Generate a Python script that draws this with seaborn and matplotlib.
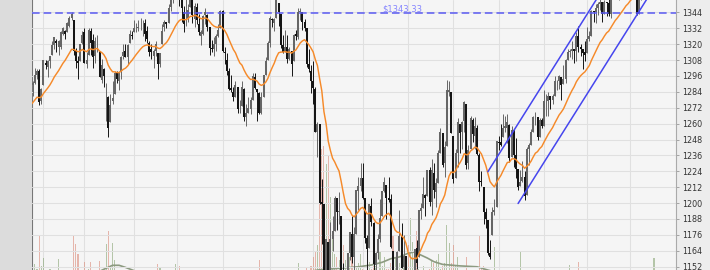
import numpy as np
import pandas as pd
import matplotlib
matplotlib.use("Agg")
import matplotlib.pyplot as plt
import matplotlib.transforms as mtransforms
from matplotlib.patches import Rectangle
import seaborn as sns

# ---------------- data: daily (open, high, low, close), one list per month ----------------
bars_2010_12 = [(1187,1207,1187,1206),(1206,1222,1206,1221),(1220,1225,1216,1225),(1225,1225,1220,1224),
                (1230,1236,1223,1224),(1224,1229,1220,1228),(1230,1234,1228,1233),(1233,1241,1233,1240),
                (1242,1247,1239,1240),(1241,1247,1238,1242),(1241,1245,1232,1235),(1236,1244,1233,1243),
                (1243,1244,1239,1244),(1245,1250,1239,1247),(1249,1255,1249,1255),
                (1255,1260,1255,1259),(1259,1259,1254,1257),(1254,1258,1252,1258),(1259,1260,1256,1259),
                (1259,1263,1259,1260),(1260,1261,1256,1258),(1256,1259,1251,1258)]
bars_2011_01 = [(1258,1276,1258,1272),(1273,1275,1262,1270),(1269,1278,1265,1277),(1277,1278,1270,1274),
                (1274,1276,1262,1272),(1270,1272,1263,1270),(1272,1277,1270,1274),(1275,1287,1275,1286),
                (1285,1287,1280,1284),(1283,1293,1281,1293),(1293,1296,1288,1295),(1294,1294,1278,1282),
                (1280,1280,1271,1280),(1283,1292,1282,1283),(1284,1291,1283,1291),(1289,1292,1281,1291),
                (1291,1302,1290,1297),(1297,1301,1294,1300),(1300,1301,1274,1276),(1277,1287,1275,1286)]
bars_2011_02 = [(1289,1308,1289,1308),(1306,1308,1301,1304),(1303,1308,1295,1307),(1307,1311,1302,1311),
                (1312,1322,1312,1319),(1319,1325,1316,1325),(1322,1324,1314,1321),(1318,1323,1312,1322),
                (1318,1330,1316,1329),(1328,1333,1327,1332),(1330,1331,1324,1328),(1329,1337,1329,1336),
                (1334,1341,1333,1340),(1340,1344,1338,1343),(1338,1338,1312,1315),(1315,1317,1302,1307),
                (1307,1311,1294,1306),(1307,1320,1307,1320),(1321,1330,1320,1327)]
bars_2011_03 = [(1329,1332,1306,1306),(1305,1314,1302,1308),(1312,1332,1312,1331),(1330,1332,1312,1321),
                (1323,1328,1302,1310),(1311,1325,1306,1322),(1320,1327,1314,1320),(1315,1315,1295,1295),
                (1293,1309,1291,1304),(1301,1302,1288,1296),(1282,1291,1262,1282),(1280,1281,1250,1257),
                (1261,1282,1261,1274),(1277,1292,1275,1279),(1282,1300,1282,1298),(1298,1300,1291,1294),
                (1292,1300,1285,1298),(1300,1311,1294,1310),(1311,1320,1309,1314),(1315,1320,1310,1310),
                (1310,1320,1305,1319),(1321,1331,1321,1328),(1327,1330,1324,1326)]
bars_2011_04 = [(1329,1338,1329,1332),(1333,1336,1329,1333),(1332,1338,1330,1333),(1336,1340,1331,1336),
                (1334,1338,1326,1334),(1336,1339,1322,1328),(1330,1334,1321,1324),(1321,1322,1311,1314),
                (1316,1320,1309,1314),(1311,1316,1302,1315),(1315,1322,1311,1320),(1313,1313,1294,1305),
                (1305,1313,1303,1313),(1320,1335,1320,1330),(1333,1338,1330,1337),(1337,1337,1332,1335),
                (1336,1350,1336,1347),(1348,1358,1345,1356),(1354,1362,1351,1360),(1360,1365,1359,1364)]
bars_2011_05 = [(1365,1371,1358,1361),(1360,1362,1349,1357),(1355,1356,1337,1347),(1344,1349,1329,1335),
                (1340,1354,1334,1340),(1340,1350,1337,1346),(1348,1360,1348,1357),(1355,1357,1336,1342),
                (1339,1351,1333,1349),(1348,1351,1335,1338),(1335,1343,1327,1329),(1326,1331,1319,1329),
                (1328,1342,1327,1341),(1342,1347,1335,1344),(1342,1343,1330,1333),(1333,1333,1312,1317),
                (1317,1323,1314,1316),(1316,1325,1311,1320),(1320,1328,1315,1326),(1326,1335,1325,1331),
                (1332,1346,1332,1345)]
bars_2011_06 = [(1345,1346,1314,1315),(1314,1318,1305,1313),(1308,1313,1297,1300),(1300,1302,1285,1286),
                (1287,1297,1284,1285),(1284,1288,1277,1280),(1280,1292,1280,1289),(1288,1288,1268,1271),
                (1272,1278,1268,1272),(1273,1292,1273,1288),(1286,1287,1262,1265),(1265,1275,1258,1268),
                (1268,1280,1268,1272),(1271,1280,1267,1278),(1278,1298,1278,1296),(1295,1298,1286,1287),
                (1286,1286,1262,1284),(1283,1284,1267,1268),(1268,1284,1267,1280),(1280,1297,1280,1297),
                (1297,1310,1297,1307),(1308,1322,1308,1321)]
bars_2011_07 = [(1321,1341,1318,1340),(1339,1340,1333,1338),(1336,1340,1330,1339),(1340,1356,1340,1353),
                (1351,1351,1334,1344),(1343,1343,1317,1319),(1319,1327,1313,1314),(1315,1331,1314,1318),
                (1318,1327,1306,1309),(1309,1318,1308,1316),(1315,1315,1296,1305),(1307,1328,1307,1327),
                (1328,1331,1323,1326),(1325,1347,1324,1344),(1344,1347,1338,1345),(1344,1344,1331,1337),
                (1337,1339,1330,1332),(1332,1332,1303,1305),(1305,1316,1299,1301),(1300,1304,1283,1292)]
bars_2011_08 = [(1292,1307,1275,1287),(1286,1288,1254,1254),(1254,1261,1235,1260),(1260,1260,1199,1200),
                (1201,1218,1169,1199),(1199,1199,1119,1119),(1121,1173,1102,1173),(1171,1171,1118,1121),
                (1121,1186,1121,1173),(1173,1190,1164,1179),(1179,1205,1179,1204),(1204,1204,1180,1193),
                (1193,1208,1184,1194),(1190,1190,1132,1141),(1140,1155,1122,1124),(1124,1146,1121,1124),
                (1124,1162,1121,1162),(1162,1178,1157,1178),(1177,1190,1155,1159),(1159,1182,1135,1177),
                (1177,1210,1177,1210),(1209,1220,1195,1213),(1213,1230,1209,1219)]
bars_2011_09 = [(1219,1230,1203,1204),(1204,1204,1170,1174),(1174,1176,1140,1165),(1166,1198,1166,1199),
                (1198,1204,1183,1186),(1185,1186,1149,1154),(1153,1163,1137,1162),(1162,1177,1158,1173),
                (1173,1203,1171,1189),(1190,1209,1190,1209),(1209,1220,1208,1216),(1214,1214,1188,1204),
                (1204,1220,1201,1202),(1203,1207,1166,1167),(1164,1164,1115,1130),(1128,1141,1122,1136),
                (1137,1164,1131,1163),(1164,1195,1164,1175),(1176,1185,1151,1151),(1152,1176,1139,1160),
                (1160,1160,1131,1131)]
bars_2011_10 = [(1131,1138,1099,1099),(1097,1125,1074,1124),(1124,1146,1116,1144),(1144,1165,1144,1165),
                (1166,1172,1150,1155),(1159,1195,1159,1195),(1194,1200,1188,1196),(1196,1220,1196,1207),
                (1206,1207,1190,1204),(1205,1225,1205,1225),(1225,1227,1198,1201),(1201,1233,1191,1225),
                (1223,1230,1204,1210),(1208,1219,1197,1215),(1215,1240,1215,1238),(1238,1257,1238,1254),
                (1253,1253,1227,1229),(1230,1247,1220,1242),(1243,1293,1243,1285),(1284,1292,1281,1285),
                (1284,1284,1253,1253)]
bars_2011_11 = [(1251,1251,1215,1218),(1219,1241,1219,1238),(1238,1264,1227,1261),(1260,1260,1238,1253),
                (1254,1262,1241,1261),(1262,1277,1254,1276),(1275,1275,1226,1229),(1230,1244,1226,1240),
                (1241,1266,1241,1264),(1263,1264,1246,1252),(1251,1265,1241,1258),(1257,1259,1236,1237),
                (1236,1238,1209,1216),(1217,1224,1213,1216),(1212,1212,1184,1193),(1193,1196,1181,1188),
                (1187,1187,1161,1162),(1162,1172,1158,1159),(1176,1197,1176,1193),(1193,1203,1191,1195),
                (1197,1247,1197,1247)]
bars_2011_12 = [(1246,1251,1240,1245),(1246,1260,1243,1244),(1250,1267,1250,1257),(1257,1266,1254,1258),
                (1257,1267,1245,1261),(1259,1260,1231,1234),(1235,1258,1235,1255),(1255,1255,1227,1236),
                (1236,1249,1219,1226),(1226,1226,1210,1212),(1213,1225,1213,1216),(1217,1232,1216,1220),
                (1220,1224,1202,1205),(1206,1242,1206,1241),(1241,1245,1229,1244),(1244,1256,1244,1254),
                (1254,1266,1254,1265),(1265,1269,1259,1265),(1265,1265,1248,1250),(1250,1264,1250,1263),
                (1263,1264,1257,1258)]
bars_2012_01 = [(1258,1285,1258,1277),(1277,1282,1266,1277),(1277,1284,1266,1281),(1281,1281,1271,1278),
                (1278,1282,1275,1281),(1281,1296,1281,1292),(1292,1293,1285,1292),(1292,1297,1286,1296),
                (1295,1295,1278,1289),(1290,1304,1290,1294),(1294,1309,1291,1308),(1308,1316,1308,1314),
                (1314,1316,1310,1315),(1315,1322,1309,1316),(1316,1316,1306,1315),(1315,1329,1307,1326),
                (1326,1334,1314,1318),(1318,1320,1311,1316),(1316,1316,1301,1313),(1314,1322,1307,1312)]
bars_2012_02 = [(1313,1333,1313,1324),(1324,1330,1322,1326),(1326,1346,1326,1345),(1345,1345,1337,1344),
                (1344,1350,1336,1347),(1347,1352,1342,1350),(1350,1357,1346,1352),(1352,1352,1337,1343),
                (1343,1353,1343,1352),(1352,1352,1341,1351),(1351,1356,1341,1343),(1343,1359,1340,1358),
                (1358,1364,1357,1361),(1361,1368,1358,1362),(1362,1363,1356,1358),(1358,1364,1353,1363),
                (1363,1368,1363,1366),(1366,1371,1355,1368),(1368,1373,1364,1372),(1372,1378,1363,1366)]
bars_2012_03 = [(1366,1377,1366,1374),(1374,1374,1368,1370),(1370,1370,1359,1364),(1364,1364,1342,1343),
                (1343,1354,1343,1353),(1353,1368,1353,1366),(1366,1374,1366,1371),(1371,1372,1366,1371),
                (1371,1396,1371,1396),(1396,1400,1390,1394),(1395,1403,1394,1403),(1403,1406,1401,1404)]

# daily volume, billions
vol_2010_12 = [3.2, 3.3, 3.0, 3.0, 3.2, 3.1, 3.0, 2.9, 3.0, 3.1, 3.2, 3.1, 3.3, 2.8, 2.6,
               2.6, 2.2, 2.0, 2.4, 2.6, 2.5, 2.3]
vol_2011_01 = [3.2, 3.4, 3.3, 3.3, 3.3, 3.1, 3.2, 3.3, 3.2, 3.3, 3.3, 3.4, 3.4, 3.4, 3.1, 3.8, 3.67, 3.5, 4.61, 3.6]
vol_2011_02 = [3.86, 3.3, 3.4, 3.5, 3.3, 3.4, 3.3, 3.83, 3.3, 3.2, 3.4, 3.3, 3.2, 3.3, 4.61, 4.34, 4.0, 3.3, 3.4]
vol_2011_03 = [3.74, 3.3, 3.5, 3.72, 3.4, 3.3, 3.2, 3.78, 3.3, 3.4, 4.34, 4.77, 3.6, 4.38, 3.8, 3.0, 3.0, 3.1,
               3.0, 2.8, 2.9, 3.0, 3.1]
vol_2011_04 = [3.2, 3.0, 3.1, 3.2, 3.1, 3.0, 3.0, 3.3, 3.2, 3.1, 3.3, 3.67, 3.55, 3.2, 3.1, 2.9, 3.1, 3.3, 3.3, 3.66]
vol_2011_05 = [3.4, 3.6, 3.4, 3.4, 3.3, 3.2, 3.2, 3.3, 3.2, 3.3, 3.1, 3.2, 3.2, 3.1, 3.1, 3.0, 3.1, 3.0, 3.0, 2.8, 3.3]
vol_2011_06 = [3.4, 3.3, 3.2, 3.1, 3.2, 3.3, 3.2, 3.3, 3.1, 3.3, 3.4, 3.4, 3.4, 3.0, 3.2, 3.1, 3.2, 3.8, 3.0, 3.1,
               3.2, 3.3]
vol_2011_07 = [3.3, 2.9, 2.9, 3.1, 3.0, 3.2, 3.3, 3.2, 3.3, 3.2, 3.0, 3.2, 3.1, 3.7, 3.0, 3.1, 3.2, 3.55, 3.4, 3.6]
vol_2011_08 = [3.9, 4.1, 4.3, 6.5, 7.5, 7.6, 7.0, 7.3, 5.9, 4.5, 4.0, 3.9, 3.8, 4.4, 4.3, 3.8, 4.0, 3.9, 4.1, 4.2,
               3.6, 3.7, 4.0]
vol_2011_09 = [3.5, 3.4, 3.6, 3.74, 3.5, 3.6, 3.6, 3.4, 4.07, 3.6, 3.9, 3.5, 3.5, 3.7, 4.6, 3.9, 3.7, 3.7, 3.5,
               3.6, 3.7]
vol_2011_10 = [4.3, 5.2, 4.4, 4.0, 4.76, 3.5, 3.2, 3.6, 3.3, 3.4, 3.5, 3.8, 3.7, 3.8, 4.0, 3.5, 3.6, 3.7, 4.97,
               4.35, 3.7]
vol_2011_11 = [4.3, 3.6, 3.9, 3.3, 3.1, 3.3, 3.9, 3.4, 3.2, 3.0, 3.2, 3.4, 4.6, 3.5, 3.6, 3.4, 3.3, 1.8, 3.3,
               4.24, 3.4]
vol_2011_12 = [3.3, 3.2, 3.3, 3.0, 3.2, 3.4, 3.2, 3.1, 3.3, 3.4, 4.1, 3.45, 3.1, 3.3, 3.4, 2.9, 2.3, 2.1, 2.2,
               2.3, 2.2]
vol_2012_01 = [3.2, 3.4, 3.3, 3.1, 3.0, 3.1, 3.2, 3.3, 3.1, 3.3, 3.3, 3.4, 3.62, 3.2, 3.3, 3.4, 3.74, 3.3, 3.2, 3.3]
vol_2012_02 = [3.3, 3.2, 3.4, 3.1, 3.2, 3.3, 3.3, 3.2, 3.0, 3.1, 3.2, 3.3, 3.3, 3.2, 3.1, 3.0, 3.0, 3.1, 3.2, 3.4]
vol_2012_03 = [3.4, 3.2, 3.1, 3.4, 3.2, 3.3, 3.2, 3.0, 3.3, 3.4, 3.3, 3.87]

months = [(bars_2010_12, vol_2010_12), (bars_2011_01, vol_2011_01), (bars_2011_02, vol_2011_02),
          (bars_2011_03, vol_2011_03), (bars_2011_04, vol_2011_04), (bars_2011_05, vol_2011_05),
          (bars_2011_06, vol_2011_06), (bars_2011_07, vol_2011_07), (bars_2011_08, vol_2011_08),
          (bars_2011_09, vol_2011_09), (bars_2011_10, vol_2011_10), (bars_2011_11, vol_2011_11),
          (bars_2011_12, vol_2011_12), (bars_2012_01, vol_2012_01), (bars_2012_02, vol_2012_02),
          (bars_2012_03, vol_2012_03)]

# volume average line (trading-day index, billions)
vol_line_idx = [-42, 20, 26, 29, 32, 35, 38, 42, 50, 80, 110, 122, 128, 137, 146, 152, 157, 161, 165, 169,
                172, 175, 178, 181, 185, 193, 201, 206, 215, 250, 283]
vol_line_val = [3.20, 3.30, 3.42, 3.52, 3.62, 3.62, 3.55, 3.44, 3.30, 3.20, 3.30, 3.40, 3.47, 3.52, 3.57, 3.63,
                3.72, 3.84, 3.90, 4.02, 4.07, 3.96, 3.86, 3.74, 3.65, 3.60, 3.57, 3.46, 3.30, 3.20, 3.20]

ref_price = 1343.33
ref_label = "$1343.33"
channel_upper = ([206, 293], [1223.7, 1448.6])
channel_lower = ([220, 293], [1199.7, 1388.4])
ema_span = 20
price_ticks = list(range(1152, 1345, 12))
vol_ticks = [3.74, 4.28, 4.81, 5.35, 5.88, 6.42, 6.95, 7.49]
lead_days = len(bars_2010_12) + len(bars_2011_01)   # Feb 1 2011 = index 0

# ---------------- assemble ----------------
rows, vols, month_starts = [], [], []
for b, v in months:
    assert len(b) == len(v), (len(b), len(v))
    month_starts.append(len(rows) - lead_days)
    rows.extend(b)
    vols.extend(v)
df = pd.DataFrame(rows, columns=["open", "high", "low", "close"])
df["vol"] = vols
df["x"] = np.arange(len(df)) - lead_days
df["ma"] = df["close"].ewm(span=ema_span, adjust=False).mean()
up = (df["close"] >= df["open"]).to_numpy()

# ---------------- figure ----------------
sns.set_theme(style="white")
plt.rcParams["font.family"] = ["DejaVu Sans"]
W, H = 710, 270
fig = plt.figure(figsize=(W / 100, H / 100), dpi=100, facecolor="#ededed")
fig.patches.append(Rectangle((0, 0), 31.5 / W, 1, transform=fig.transFigure,
                             facecolor="#dcdcdc", edgecolor="none", zorder=0))

axv = fig.add_axes([32 / W, 0, 644 / W, 1])
axv.set_facecolor("#f5f5f5")
axp = axv.twinx()
axp.patch.set_visible(False)

# volume bars (behind)
vcol = np.where(up, "#7f9f6a", "#d9826e")
axv.bar(df["x"], df["vol"], width=0.5, color=vcol, alpha=0.55, linewidth=0, zorder=2)
sns.lineplot(x=vol_line_idx, y=vol_line_val, ax=axv, color="#8c9a80", lw=1.2, zorder=3)

# grid
axv.set_xticks(month_starts)
axv.grid(True, axis="x", color="#e0e0e0", lw=0.75, zorder=0)
axv.set_axisbelow(True)
axp.set_yticks(price_ticks)
axp.grid(True, axis="y", color="#e0e0e0", lw=0.75)
axp.set_axisbelow(True)

# candles
ccol = np.where(up, "#666666", "#151515")
axp.vlines(df["x"], df["low"], df["high"], colors=ccol, lw=0.7, zorder=3)
axp.vlines(df["x"], np.minimum(df["open"], df["close"]), np.maximum(df["open"], df["close"]),
           colors=ccol, lw=1.45, zorder=3)

# moving average (exponential, 20 days)
sns.lineplot(data=df, x="x", y="ma", ax=axp, color="#f58a2a", lw=1.05, zorder=5)

# reference line + label
axp.axhline(ref_price, color="#5a5af2", lw=1.1, ls=(0, (5, 2.6)), zorder=6)
tr = mtransforms.blended_transform_factory(axp.transAxes, axp.transData)
axp.text(0.5435, ref_price + 1.6, ref_label, transform=tr, color="#8484ff",
         fontsize=6, va="baseline", ha="left", zorder=7)

# trend channel
axp.plot(*channel_upper, color="#4646ee", lw=1.1, zorder=6)
axp.plot(*channel_lower, color="#4646ee", lw=1.1, zorder=6)

# limits
axv.set_xlim(-5.33, 293.2)
axp.set_ylim(1149.5, 1353.3)
axv.set_ylim(3.4625, 12.49)

# ticks / labels
axp.set_yticklabels([str(t) for t in price_ticks])
axp.tick_params(axis="y", right=True, labelright=True, left=False, labelleft=False,
                labelsize=5.8, labelcolor="#333333", length=2, width=0.6, pad=2.5, color="#999999")
axv.set_yticks(vol_ticks)
axv.set_yticklabels([f"{v:.2f}B" for v in vol_ticks])
axv.tick_params(axis="y", left=True, labelleft=True, right=False, labelright=False,
                labelsize=5.6, labelcolor="#333333", length=2, width=0.6, pad=1, color="#555555")
for a in (axv, axp):
    a.tick_params(axis="x", bottom=False, labelbottom=False, top=False, labeltop=False)
    a.set_xlabel("")
    a.set_ylabel("")
for s in ("top", "bottom"):
    axv.spines[s].set_visible(False)
    axp.spines[s].set_visible(False)
axv.spines["left"].set_color("#777777")
axv.spines["left"].set_linewidth(0.8)
axv.spines["right"].set_visible(False)
axp.spines["left"].set_visible(False)
axp.spines["right"].set_color("#aaaaaa")
axp.spines["right"].set_linewidth(0.8)

fig.savefig("out.png", dpi=100, facecolor=fig.get_facecolor())
